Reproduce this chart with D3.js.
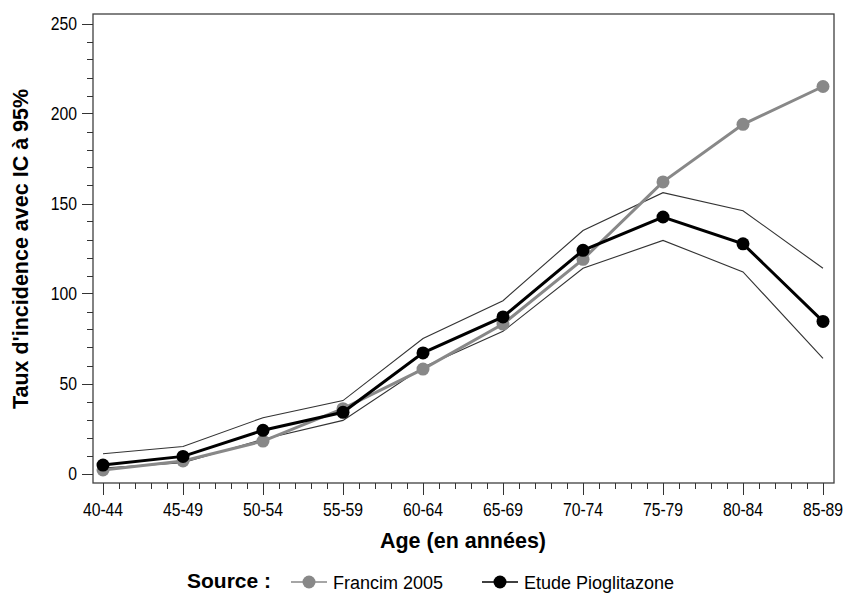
<!DOCTYPE html>
<html>
<head>
<meta charset="utf-8">
<script src="https://cdn.jsdelivr.net/npm/d3@7"></script>
<style>
  body { margin: 0; background: #fff; }
  svg { display: block; }
  .tick-label { font-family: "Liberation Sans", Arial, sans-serif; font-size: 17.5px; fill: #000; }
  .legend-label { font-family: "Liberation Sans", Arial, sans-serif; font-size: 18px; fill: #000; }
  .title { font-family: "Liberation Sans", Arial, sans-serif; font-size: 21.5px; font-weight: bold; fill: #000; }
  .legend-title { font-family: "Liberation Sans", Arial, sans-serif; font-size: 21px; font-weight: bold; fill: #000; }
</style>
</head>
<body>
<div id="chart"></div>
<script>
const width = 846;
const height = 594;

const ageGroups = ["40-44", "45-49", "50-54", "55-59", "60-64", "65-69", "70-74", "75-79", "80-84", "85-89"];
const francim = [2, 7, 18, 36, 58, 83, 119, 162, 194, 215];
const etude = [4.7, 9.5, 24, 34, 67, 87, 124, 142.5, 127.6, 84.5];
const etudeUpper = [11, 15, 31, 40.5, 75, 96, 135, 156, 146, 114];
const etudeLower = [3, 6, 19, 29.5, 59, 79, 114, 129.5, 112, 64];
const yTicks = [0, 50, 100, 150, 200, 250];

const frame = { left: 93, right: 834, top: 14, bottom: 483 };
const squeeze = 0.9; // tick labels are a narrow font

const svg = d3.select("#chart").append("svg")
    .attr("width", width)
    .attr("height", height);

const x = d3.scalePoint()
    .domain(ageGroups)
    .range([103, 823]);

const y = d3.scaleLinear()
    .domain([0, 250])
    .range([473.5, 23.5]);

// frame
svg.append("rect")
    .attr("x", frame.left)
    .attr("y", frame.top)
    .attr("width", frame.right - frame.left)
    .attr("height", frame.bottom - frame.top)
    .attr("fill", "none")
    .attr("stroke", "#404040")
    .attr("stroke-width", 1.3);

// y axis: major ticks + labels, minor every 10
const yAxis = svg.append("g");
d3.range(0, 251, 10).forEach(v => {
    const major = v % 50 === 0;
    yAxis.append("line")
        .attr("x1", frame.left - (major ? 11 : 6))
        .attr("x2", frame.left)
        .attr("y1", Math.round(y(v)) + 0.5)
        .attr("y2", Math.round(y(v)) + 0.5)
        .attr("stroke", "#333");
});
yAxis.selectAll(".ylab")
    .data(yTicks)
    .enter().append("text")
    .attr("class", "tick-label")
    .attr("transform", d => `translate(${frame.left - 16},${y(d) + 6}) scale(${squeeze},1)`)
    .attr("text-anchor", "end")
    .text(d => d);

// x axis: major ticks at categories, 4 minor ticks between
const xAxis = svg.append("g");
const step = x.step();
ageGroups.forEach((g, i) => {
    const cx = x(g);
    xAxis.append("line")
        .attr("x1", Math.round(cx) + 0.5).attr("x2", Math.round(cx) + 0.5)
        .attr("y1", frame.bottom).attr("y2", frame.bottom + 12)
        .attr("stroke", "#333");
    if (i < ageGroups.length - 1) {
        for (let k = 1; k < 5; k++) {
            const mx = Math.round(cx + k * step / 5) + 0.5;
            xAxis.append("line")
                .attr("x1", mx).attr("x2", mx)
                .attr("y1", frame.bottom).attr("y2", frame.bottom + 6)
                .attr("stroke", "#333");
        }
    }
    xAxis.append("text")
        .attr("class", "tick-label")
        .attr("transform", `translate(${cx},516) scale(${squeeze},1)`)
        .attr("text-anchor", "middle")
        .text(g);
});

// titles
svg.append("text")
    .attr("class", "title")
    .attr("transform", "translate(28,249) rotate(-90)")
    .attr("text-anchor", "middle")
    .text("Taux d'incidence avec IC à 95%");

svg.append("text")
    .attr("class", "title")
    .attr("x", 463)
    .attr("y", 548)
    .attr("text-anchor", "middle")
    .text("Age (en années)");

const line = d3.line()
    .x((d, i) => x(ageGroups[i]))
    .y(d => y(d));

// confidence interval lines
[etudeUpper, etudeLower].forEach(ci => {
    svg.append("path")
        .attr("d", line(ci))
        .attr("fill", "none")
        .attr("stroke", "#333")
        .attr("stroke-width", 1.1);
});

function drawSeries(values, color) {
    svg.append("path")
        .attr("d", line(values))
        .attr("fill", "none")
        .attr("stroke", color)
        .attr("stroke-width", 3);
    svg.selectAll(null)
        .data(values)
        .enter().append("circle")
        .attr("cx", (d, i) => x(ageGroups[i]))
        .attr("cy", d => y(d))
        .attr("r", 6.5)
        .attr("fill", color);
}

drawSeries(francim, "#888888");
drawSeries(etude, "#000000");

// legend
const legendY = 582;
svg.append("text")
    .attr("class", "legend-title")
    .attr("x", 187)
    .attr("y", 588)
    .text("Source :");

const legendItems = [
    { label: "Francim 2005", color: "#888888", x0: 291 },
    { label: "Etude Pioglitazone", color: "#000000", x0: 482 }
];
legendItems.forEach(item => {
    svg.append("line")
        .attr("x1", item.x0).attr("x2", item.x0 + 36)
        .attr("y1", legendY).attr("y2", legendY)
        .attr("stroke", item.color)
        .attr("stroke-width", 1.5);
    svg.append("circle")
        .attr("cx", item.x0 + 18)
        .attr("cy", legendY)
        .attr("r", 6.5)
        .attr("fill", item.color);
    svg.append("text")
        .attr("class", "legend-label")
        .attr("x", item.x0 + 42)
        .attr("y", legendY + 7)
        .text(item.label);
});
</script>
</body>
</html>
